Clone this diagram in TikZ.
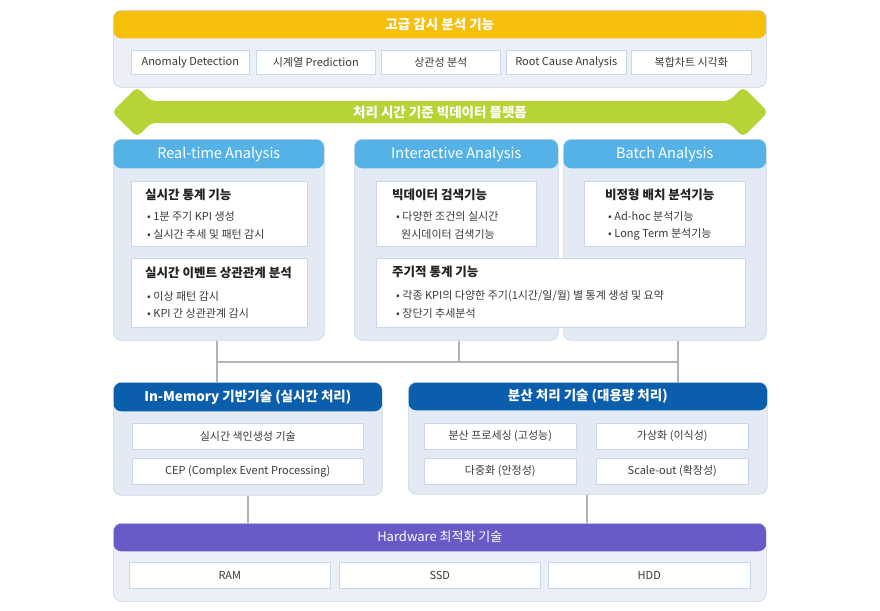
\documentclass[tikz,border=0pt]{standalone}
\usepackage{fontspec}
\setmainfont{Noto Sans CJK KR}
\definecolor{panelbg}{HTML}{E3EAF3}
\definecolor{panelbgl}{HTML}{EBF0F6}
\definecolor{panelline}{HTML}{C9D7E7}
\definecolor{boxline}{HTML}{C8D8EA}
\definecolor{yel}{HTML}{F5BF0C}
\definecolor{sky}{HTML}{55B2E7}
\definecolor{navy}{HTML}{0A5EAB}
\definecolor{violet}{HTML}{675BC7}
\definecolor{lime}{HTML}{B6D435}
\definecolor{connline}{HTML}{B3B3B3}
\definecolor{txt}{HTML}{3A3A3A}
\definecolor{dtxt}{HTML}{222222}
\tikzset{
  panel/.style 2 args={anchor=north west, inner sep=0pt, draw=panelline,
    line width=0.6pt, fill=panelbg, rounded corners=8pt,
    path picture={\fill[#2] (path picture bounding box.north west)
      rectangle ([yshift=-#1]path picture bounding box.north east);}},
  ibox/.style={anchor=north west, inner sep=0pt, draw=boxline, line width=0.6pt,
    fill=white, text=txt, font=\fontsize{11}{13}\selectfont},
  htitle/.style={text=white, inner sep=0pt, font=\bfseries\fontsize{13.5}{16}\selectfont},
  atitle/.style={text=white, inner sep=0pt, font=\fontsize{14.5}{17}\selectfont},
  btitle/.style={anchor=west, inner sep=0pt, text=dtxt, font=\bfseries\fontsize{12.5}{15}\selectfont},
  bul/.style={anchor=west, inner sep=0pt, text=txt, font=\fontsize{11}{13}\selectfont},
  conn/.style={draw=connline, line width=1.2pt},
}
\begin{document}
\begin{tikzpicture}[x=1pt,y=-1pt]
\fill[white] (0,0) rectangle (880,610);
\useasboundingbox (0,0) rectangle (880,610);

% --- advanced monitoring functions ---
\node[panel={28pt}{yel}, fill=panelbgl, minimum width=653pt, minimum height=77pt] (tp) at (113,10) {};
\node[htitle] (tp-t) at ([yshift=-14pt]tp.north) {고급 감시 분석 기능};
\node[ibox, minimum width=118pt, minimum height=24pt] (tp1) at (131,50) {Anomaly Detection};
\node[ibox, minimum width=119pt, minimum height=24pt] (tp2) at (256,50) {시계열 Prediction};
\node[ibox, minimum width=119pt, minimum height=24pt] (tp3) at (381,50) {상관성 분석};
\node[ibox, minimum width=120pt, minimum height=24pt] (tp4) at (506,50) {Root Cause Analysis};
\node[ibox, minimum width=120pt, minimum height=24pt] (tp5) at (631,50) {복합차트 시각화};

% --- platform double arrow ---
\fill[lime, rounded corners=5pt] (112,112) -- (137,87) -- (151,101) -- (729,101)
  -- (743,87) -- (768,112) -- (743,137) -- (729,123) -- (151,123) -- (137,137) -- cycle;
\node[htitle] (plat) at (440,112) {처리 시간 기준 빅데이터 플랫폼};

% --- analysis panels ---
\node[panel={29pt}{sky}, minimum width=211pt, minimum height=201pt] (rt) at (113,139) {};
\node[atitle] (rt-t) at ([yshift=-15pt]rt.north) {Real-time Analysis};
\node[panel={29pt}{sky}, minimum width=204pt, minimum height=201pt] (ia) at (354,139) {};
\node[atitle] (ia-t) at ([yshift=-15pt]ia.north) {Interactive Analysis};
\node[panel={29pt}{sky}, minimum width=203pt, minimum height=201pt] (ba) at (563,139) {};
\node[atitle] (ba-t) at ([yshift=-15pt]ba.north) {Batch Analysis};

\node[ibox, minimum width=176pt, minimum height=65pt] (rt1) at (131,181) {};
\node[btitle] (rt1-t) at (145,195) {실시간 통계 기능};
\node[bul] (rt1-a) at (147,216) {• 1분 주기 KPI 생성};
\node[bul] (rt1-b) at (147,234) {• 실시간 추세 및 패턴 감시};

\node[ibox, minimum width=176pt, minimum height=69pt] (rt2) at (131,258) {};
\node[btitle] (rt2-t) at (145,273) {실시간 이벤트 상관관계 분석};
\node[bul] (rt2-a) at (147,296) {• 이상 패턴 감시};
\node[bul] (rt2-b) at (147,313) {• KPI 간 상관관계 감시};

\node[ibox, minimum width=160pt, minimum height=65pt] (ia1) at (376,181) {};
\node[btitle] (ia1-t) at (392,195) {빅데이터 검색기능};
\node[bul] (ia1-a) at (396,216) {• 다양한 조건의 실시간};
\node[bul] (ia1-b) at (401,234) {원시데이터 검색기능};

\node[ibox, minimum width=161pt, minimum height=65pt] (ba1) at (584,181) {};
\node[btitle] (ba1-t) at (605,195) {비정형 배치 분석기능};
\node[bul] (ba1-a) at (608,216) {• Ad-hoc 분석기능};
\node[bul] (ba1-b) at (608,234) {• Long Term 분석기능};

\node[ibox, minimum width=369pt, minimum height=69pt] (pd) at (376,258) {};
\node[btitle] (pd-t) at (392,272) {주기적 통계 기능};
\node[bul] (pd-a) at (396,296) {• 각종 KPI의 다양한 주기(1시간/일/월) 별 통계 생성 및 요약};
\node[bul] (pd-b) at (396,313) {• 장단기 추세분석};

% --- processing technology panels ---
\node[panel={29pt}{navy}, minimum width=269pt, minimum height=113pt] (im) at (113,382) {};
\node[htitle] (im-t) at ([yshift=-15pt]im.north) {In-Memory 기반기술 (실시간 처리)};
\node[ibox, minimum width=231pt, minimum height=26pt] (im1) at (132,423) {실시간 색인생성 기술};
\node[ibox, minimum width=231pt, minimum height=26pt] (im2) at (132,458) {CEP (Complex Event Processing)};

\node[panel={28pt}{navy}, minimum width=359pt, minimum height=112pt] (dp) at (408,382) {};
\node[htitle] (dp-t) at ([yshift=-14pt]dp.north) {분산 처리 기술 (대용량 처리)};
\node[ibox, minimum width=152pt, minimum height=26pt] (dp1) at (424,423) {분산 프로세싱 (고성능)};
\node[ibox, minimum width=152pt, minimum height=26pt] (dp2) at (596,423) {가상화 (이식성)};
\node[ibox, minimum width=152pt, minimum height=26pt] (dp3) at (424,458) {다중화 (안정성)};
\node[ibox, minimum width=152pt, minimum height=26pt] (dp4) at (596,458) {Scale-out (확장성)};

% --- hardware ---
\node[panel={28pt}{violet}, fill=panelbgl, minimum width=653pt, minimum height=78pt] (hw) at (113,523) {};
\node[htitle, font=\fontsize{13}{16}\selectfont] (hw-t) at ([yshift=-14pt]hw.north) {Hardware 최적화 기술};
\node[ibox, minimum width=201pt, minimum height=26pt] (hw1) at (129,562) {RAM};
\node[ibox, minimum width=201pt, minimum height=26pt] (hw2) at (339,562) {SSD};
\node[ibox, minimum width=202pt, minimum height=26pt] (hw3) at (548,562) {HDD};

% --- connectors ---
\coordinate (j1) at (217,362);
\coordinate (j2) at (459,362);
\coordinate (j3) at (678,362);
\coordinate (k1) at (248,495);
\coordinate (k2) at (587,494);
\draw[conn] (rt.south -| j1) -- (im.north -| j1);
\draw[conn] (j1) -- (j3);
\draw[conn] (ia.south -| j2) -- (j2);
\draw[conn] (ba.south -| j3) -- (dp.north -| j3);
\draw[conn] (im.south -| k1) -- (hw.north -| k1);
\draw[conn] (dp.south -| k2) -- (hw.north -| k2);
\end{tikzpicture}
\end{document}
